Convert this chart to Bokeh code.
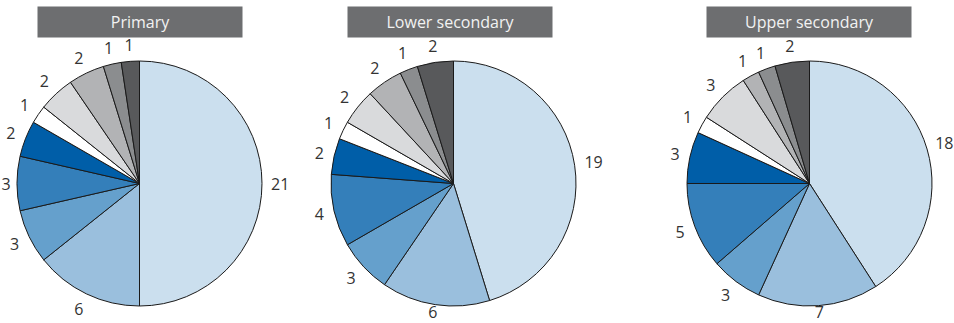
import math
from bokeh.plotting import figure
from bokeh.models import Range1d, ColumnDataSource
from bokeh.embed import file_html
from bokeh.resources import INLINE
from bokeh.core.properties import value

titles = ["Primary", "Lower secondary", "Upper secondary"]
primary = [21, 6, 3, 3, 2, 1, 2, 2, 1, 1]
lower_secondary = [19, 6, 3, 4, 2, 1, 2, 2, 1, 2]
upper_secondary = [18, 7, 3, 5, 3, 1, 3, 1, 1, 2]
colors = ["#cbdfee", "#9abfdd", "#65a0cc", "#347fba", "#005ea8",
          "#ffffff", "#d9dadc", "#b2b3b5", "#8b8d8f", "#58595b"]

series = [primary, lower_secondary, upper_secondary]
centers_x = [139, 453, 809]
center_y = 323 - 183
radius = 122.5
gap = 9
box_left = [37, 347, 706]
box_w = 205

W, H = 954, 323
p = figure(width=W, height=H, output_backend="svg", toolbar_location=None,
           x_range=Range1d(0, W), y_range=Range1d(0, H), min_border=0)
p.axis.visible = False
p.grid.visible = False
p.outline_line_color = None
p.background_fill_color = "white"
p.border_fill_color = "white"

for vals, cx, title, bl in zip(series, centers_x, titles, box_left):
    total = sum(vals)
    starts, ends, lx, ly, txt = [], [], [], [], []
    cum = 0
    for v in vals:
        a0 = math.pi / 2 - 2 * math.pi * cum / total
        a1 = math.pi / 2 - 2 * math.pi * (cum + v) / total
        mid = (a0 + a1) / 2
        starts.append(a0)
        ends.append(a1)
        s = str(v)
        hw = 4.6 * len(s)
        hh = 7
        r = radius + gap + abs(math.cos(mid)) * hw + abs(math.sin(mid)) * hh
        x = cx + r * math.cos(mid)
        y = center_y + r * math.sin(mid)
        x = max(x, hw + 1)
        x = min(x, W - hw - 1)
        y = max(y, 12)
        lx.append(x)
        ly.append(y)
        txt.append(s)
        cum += v
    src = ColumnDataSource(dict(x=[cx] * len(vals), y=[center_y] * len(vals),
                                start=starts, end=ends, color=colors))
    p.wedge(x="x", y="y", radius=radius, start_angle="start", end_angle="end",
            direction="clock", fill_color="color", line_color="#1a1a1a",
            line_width=1, source=src)
    p.text(x=lx, y=ly, text=txt, text_align="center", text_baseline="middle",
           text_font=value("Open Sans"), text_font_size="16px", text_color="#333333")
    p.quad(left=[bl], right=[bl + box_w], bottom=[H - 37], top=[H - 6],
           fill_color="#6d6e70", line_color=None)
    p.text(x=[bl + box_w / 2], y=[H - 21.5], text=[title], text_align="center",
           text_baseline="middle", text_font=value("Open Sans"),
           text_font_size="16px", text_color="#f2f2f2")

open("out.html", "w").write(file_html(p, INLINE))
